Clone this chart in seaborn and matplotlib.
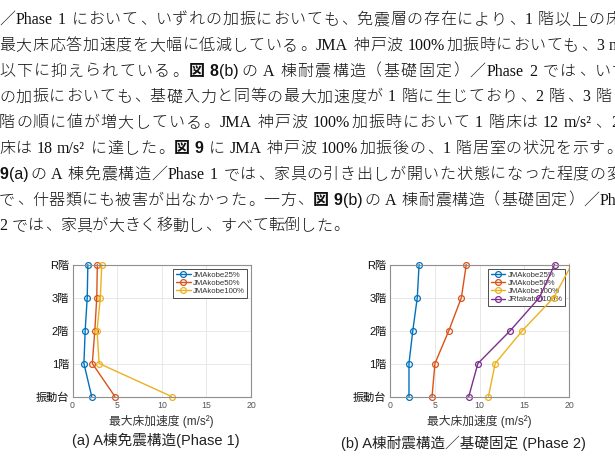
import matplotlib
matplotlib.use("Agg")
import numpy as np
import pandas as pd
import seaborn as sns
import matplotlib.pyplot as plt
from matplotlib.font_manager import FontProperties
from matplotlib.patches import Rectangle

# ---------------- data ----------------
levels = ["振動台", "1階", "2階", "3階", "R階"]
x_ticks = [0, 5, 10, 15, 20]

series_a = ["JMAkobe25%", "JMAkobe50%", "JMAkobe100%"]
a_kobe25 = [2.15, 1.28, 1.42, 1.65, 1.72]
a_kobe50 = [4.75, 2.22, 2.50, 2.72, 2.78]
a_kobe100 = [11.1, 2.98, 2.75, 3.12, 3.28]

series_b = ["JMAkobe25%", "JMAkobe50%", "JMAkobe100%", "JRtakatori100%"]
b_kobe25 = [2.12, 2.12, 2.55, 3.05, 3.25]
b_kobe50 = [4.70, 5.02, 6.58, 7.98, 8.52]
b_kobe100 = [11.0, 11.75, 14.8, 18.3, 20.3]
b_takatori = [8.80, 9.82, 13.45, 16.7, 18.4]

xlabel_text = "最大床加速度 (m/s²)"
caption_a = "(a) A棟免震構造(Phase 1)"
caption_b = "(b) A棟耐震構造／基礎固定 (Phase 2)"
palette = ["#0072BD", "#D95319", "#EDB120", "#7E2F8E"]

# body text: (segments, right-end target of last visible unit)
body_lines = [
    ([("／Phase 1 において、いずれの加振においても、免震層の存在により、1 階以上の床", "r")], 605),
    ([("最大床応答加速度を大幅に低減している。JMA 神戸波 100%加振時においても、3 m/s²", "r")], 609),
    ([("以下に抑えられている。", "r"), ("図 8", "b"), ("(b)", "s"),
      ("の A 棟耐震構造（基礎固定）／Phase 2 では、いず", "r")], 612),
    ([("の加振においても、基礎入力と同等の最大加速度が 1 階に生じており、2 階、3 階", "r")], 596),
    ([("階の順に値が増大している。JMA 神戸波 100%加振時において 1 階床は 12 m/s²、2", "r")], 611),
    ([("床は 18 m/s² に達した。", "r"), ("図 9", "b"),
      (" に JMA 神戸波 100%加振後の、1 階居室の状況を示す。", "r")], 605),
    ([("9", "b"), ("(a)", "s"),
      ("の A 棟免震構造／Phase 1 では、家具の引き出しが開いた状態になった程度の変", "r")], 606),
    ([("で、什器類にも被害が出なかった。一方、", "r"), ("図 9", "b"), ("(b)", "s"),
      ("の A 棟耐震構造（基礎固定）／Phase", "r")], 600),
    ([("2 では、家具が大きく移動し、すべて転倒した。", "r")], None),
]

# ---------------- figure ----------------
sns.set_theme(style="white")
plt.rcParams["font.family"] = ["Liberation Sans", "Noto Sans CJK JP", "DejaVu Sans"]

W, H = 615, 463
fig = plt.figure(figsize=(6.15, 4.63), dpi=100)
renderer = fig.canvas.get_renderer()

EM = 16.0
FS = EM * 72 / 100
fp = {
    "r": FontProperties(family=["Liberation Serif", "Noto Sans CJK JP"], size=FS, weight="light"),
    "b": FontProperties(family=["Liberation Sans", "Noto Sans CJK JP"], size=FS, weight="bold"),
    "s": FontProperties(family=["Liberation Sans", "Noto Sans CJK JP"], size=FS),
}


def is_cjk(c):
    return len(c) == 1 and (ord(c) >= 0x2E80)


def split_units(segs):
    units = []
    for text, kind in segs:
        run = ""
        for c in text:
            if c == " " or is_cjk(c):
                if run:
                    units.append((run, kind))
                    run = ""
                units.append((c, kind))
            else:
                run += c
        if run:
            units.append((run, kind))
    return units


def measure(s, kind):
    t = fig.text(0, 0, s, fontproperties=fp[kind])
    w = t.get_window_extent(renderer).width
    t.remove()
    return w


def draw_line(segs, x0, baseline, target):
    units = split_units(segs)
    widths = []
    for u, k in units:
        if is_cjk(u):
            widths.append(EM)
        elif u == " ":
            widths.append(0.25 * EM)
        else:
            widths.append(measure(u, k) + 1.0)
    gaps = [is_cjk(units[i][0]) or is_cjk(units[i + 1][0]) for i in range(len(units) - 1)]
    ls = 0.0
    if target is not None:
        nat = x0 + sum(widths[:-1])
        ng = max(1, sum(gaps))
        ls = (target - nat) / ng
    x = x0
    yf = 1 - baseline / H
    for i, (u, k) in enumerate(units):
        if u != " ":
            kw = dict(fontproperties=fp[k], color="#111111", va="baseline")
            if is_cjk(u):
                if u in "、。）":
                    fig.text((x + 1.2) / W, yf, u, ha="left", **kw)
                elif u in "（":
                    fig.text((x + EM - 1.2) / W, yf, u, ha="right", **kw)
                else:
                    fig.text((x + EM / 2) / W, yf, u, ha="center", **kw)
            else:
                fig.text(x / W, yf, u, ha="left", **kw)
        if i < len(gaps):
            x += widths[i] + (ls if gaps[i] else 0.0)


for i, (segs, target) in enumerate(body_lines):
    draw_line(segs, -1.0, 24.0 + 25.8 * i, target)


# ---------------- charts ----------------
def axrect(l, t, r, b):
    return [l / W, 1 - b / H, (r - l) / W, (b - t) / H]


def panel(ax, names, values):
    df = pd.DataFrame({
        "acc": np.concatenate([np.asarray(v, float) for v in values]),
        "lvl": np.tile(np.arange(len(levels)), len(names)),
        "series": np.repeat(names, len(levels)),
    })
    sns.lineplot(data=df, x="acc", y="lvl", hue="series", hue_order=names,
                 palette=palette[:len(names)], sort=False, orient="y",
                 estimator=None, marker="o", markersize=4.2, linewidth=1.0,
                 ax=ax, legend=False)
    clip = Rectangle((0, -0.06), 1, 1.12, transform=ax.transAxes)
    for ln in ax.lines:
        c = ln.get_color()
        ln.set_markerfacecolor("none")
        ln.set_markeredgecolor(c)
        ln.set_markeredgewidth(0.9)
        ln.set_clip_path(clip)
    ax.set_xlim(0, 20)
    ax.set_ylim(0, 4)
    ax.set_xticks(x_ticks)
    ax.set_yticks(range(len(levels)))
    ax.set_yticklabels(levels)
    ax.grid(True, color="#e4e4e4", linewidth=0.6)
    ax.set_axisbelow(True)
    for sp in ax.spines.values():
        sp.set_color("#8f8f8f")
        sp.set_linewidth(0.8)
    ax.tick_params(axis="x", length=0, pad=3.5, labelsize=6.3, labelcolor="#555555")
    ax.tick_params(axis="y", length=0, pad=2.5, labelsize=8, labelcolor="#111111")
    ax.set_xlabel(xlabel_text, fontsize=8.5, color="#333333", labelpad=3)
    ax.set_ylabel("")
    leg = ax.legend(handles=ax.lines[:len(names)], labels=names, loc="upper right",
                    bbox_to_anchor=(0.978, 0.966), borderaxespad=0, fontsize=5.6,
                    handlelength=1.9, handletextpad=0.3, labelspacing=0.1,
                    borderpad=0.3, frameon=True, fancybox=False, framealpha=1,
                    edgecolor="#333333", labelcolor="#333333")
    leg.get_frame().set_linewidth(0.6)
    leg.set_zorder(1.5)


ax_a = fig.add_axes(axrect(72.5, 264.5, 251, 396.5))
panel(ax_a, series_a, [a_kobe25, a_kobe50, a_kobe100])
ax_b = fig.add_axes(axrect(390, 264.5, 569, 396.5))
panel(ax_b, series_b, [b_kobe25, b_kobe50, b_kobe100, b_takatori])

cap_kw = dict(ha="center", va="center", fontsize=10.5, color="#222222",
              family=["Liberation Sans", "Noto Sans CJK JP"])
fig.text(156 / W, 1 - 440 / H, caption_a, **cap_kw)
fig.text(463 / W, 1 - 443 / H, caption_b, **cap_kw)

fig.savefig("out.png", dpi=100, facecolor="white")
